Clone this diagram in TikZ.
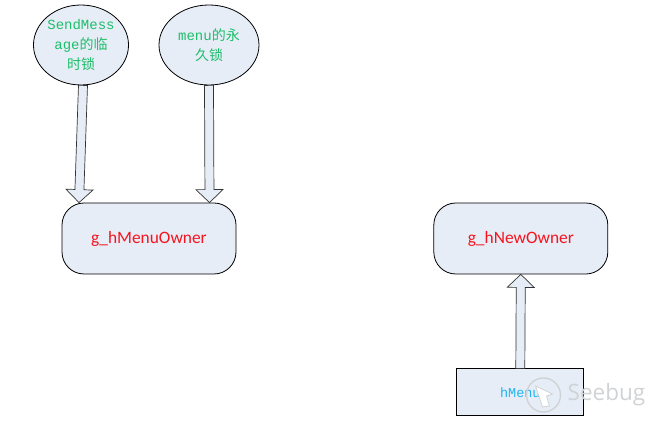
\documentclass[tikz,border=0pt]{standalone}
\usepackage{fontspec}
\setmainfont{Carlito}
\newfontfamily\monofam{Liberation Mono}
\newfontfamily\cjkfam{Noto Sans CJK SC}
\newfontfamily\wmfam{Open Sans}
\usepackage{xcolor}
\usetikzlibrary{positioning,calc,shapes.geometric}
\definecolor{shapefill}{HTML}{E7EDF7}
\definecolor{lockgreen}{HTML}{1DBE6A}
\definecolor{ownerred}{HTML}{F5141E}
\definecolor{menublue}{HTML}{1FB4F0}
\definecolor{wmgray}{HTML}{D0D3D6}
\newcommand{\zh}[1]{{\cjkfam #1}}
% outlined block arrow from one named point to another
\newcommand{\blockarrow}[2]{%
  \coordinate (headbase) at ($(#2)!13pt!(#1)$);
  \draw[blockarr] ($(#1)!4.5pt!90:(#2)$) -- ($(headbase)!4.5pt!-90:(#1)$)
    -- ($(headbase)!13.5pt!-90:(#1)$) -- (#2)
    -- ($(headbase)!13.5pt!90:(#1)$) -- ($(headbase)!4.5pt!90:(#1)$)
    -- ($(#1)!4.5pt!-90:(#2)$) -- cycle;
}

\begin{document}
\begin{tikzpicture}[
  x=1pt,y=1pt,
  owner/.style={draw,line width=.8pt,rounded corners=22pt,fill=shapefill,minimum width=174pt,
                minimum height=71pt,inner sep=0pt,text=ownerred,font=\fontsize{17.4}{20}\selectfont},
  lock/.style={draw,line width=.8pt,ellipse,fill=shapefill,minimum height=80pt,inner sep=0pt,
               text=lockgreen,align=center,font=\monofam\fontsize{14}{20}\selectfont},
  blockarr/.style={draw=black!80,line width=.7pt,fill=shapefill,line join=miter}
]
\useasboundingbox (0,0) rectangle (672,423);

\node[owner] (menuowner) at (149,184.5) {g\_hMenuOwner};
\node[owner,right=197pt of menuowner] (newowner) {g\_hNewOwner};

\node[lock,minimum width=94.5pt] (templock) at (81,378) {SendMess\\age\zh{的临}\\\zh{时锁}};
\node[lock,minimum width=100pt] (permlock) at (209,378) {menu\zh{的永}\\\zh{久锁}};

\node[draw,line width=.8pt,fill=shapefill,minimum width=127pt,minimum height=47pt,inner sep=0pt,
      below=94pt of newowner,xshift=-.5pt,text=menublue,font=\monofam\fontsize{13.5}{16}\selectfont] (hmenu) {hMenu};

% landing points on the top edge of the left box
\coordinate (templand) at ($(menuowner.north)+(-70,0)$);
\coordinate (permland) at ($(menuowner.north)+(60.5,0)$);
\coordinate (tempstart) at ($(templock.south)+(2,0)$);

\blockarrow{tempstart}{templand}
\blockarrow{permlock.south}{permland}
\blockarrow{hmenu.north}{newowner.south}

% watermark
\node[circle,draw=wmgray,line width=1.4pt,minimum size=34pt,inner sep=0pt] (wmring) at (543.5,28) {};
\fill[white,draw=wmgray,line width=.8pt] (wmring.center) ++(-8,9) -- ++(17,-8) -- ++(-6,-2) -- ++(3,-10) -- ++(-7,-1) -- cycle;
\node[right=3pt of wmring,text=wmgray,font=\wmfam\fontsize{22.5}{24}\selectfont] (wmtext) {Seebug};
\end{tikzpicture}
\end{document}
